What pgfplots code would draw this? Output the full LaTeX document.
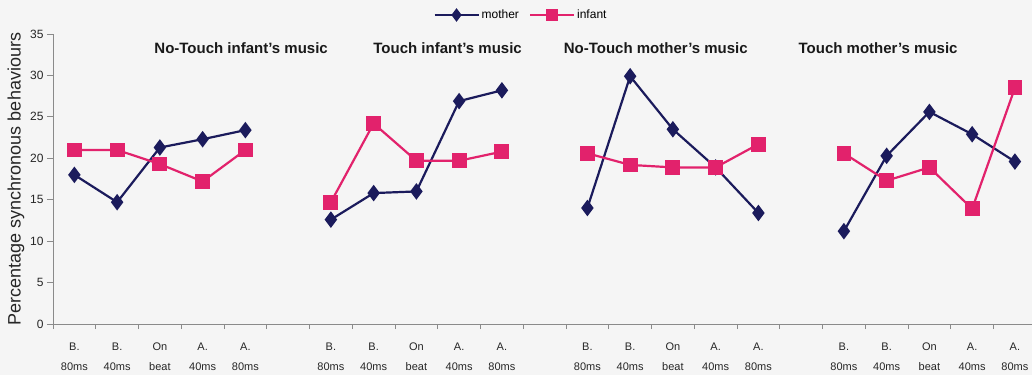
\documentclass[border=0pt]{standalone}
\usepackage{pgfplots}
\pgfplotsset{compat=1.18}
\usepackage{fontspec}
\setmainfont{Liberation Sans}
\usetikzlibrary{backgrounds}
\definecolor{mom}{HTML}{1B1B5C}
\definecolor{inf}{HTML}{E2226C}
\definecolor{bg}{HTML}{F5F5F5}
\definecolor{axisgray}{HTML}{8A8A8A}

\begin{document}
\begin{tikzpicture}[show background rectangle, inner frame sep=0pt,
  background rectangle/.style={fill=bg, draw=none}]
\useasboundingbox (-53pt,-51pt) rectangle (979pt,324pt);
\begin{axis}[
  scale only axis, width=979pt, height=290pt,
  xmin=-0.5, xmax=22.4, ymin=0, ymax=35,
  axis x line*=bottom, axis y line*=left,
  axis line style={axisgray, line width=0.9pt},
  every tick/.style={axisgray, line width=0.9pt},
  tick align=outside,
  /pgf/number format/assume math mode=true,
  xtick={0,1,2,3,4,6,7,8,9,10,12,13,14,15,16,18,19,20,21,22},
  xticklabels={{B.\\80ms},{B.\\40ms},{On\\beat},{A.\\40ms},{A.\\80ms},
               {B.\\80ms},{B.\\40ms},{On\\beat},{A.\\40ms},{A.\\80ms},
               {B.\\80ms},{B.\\40ms},{On\\beat},{A.\\40ms},{A.\\80ms},
               {B.\\80ms},{B.\\40ms},{On\\beat},{A.\\40ms},{A.\\80ms}},
  major x tick style={draw=none},
  minor xtick={-0.5,0.5,...,22.5},
  minor tick length=5pt,
  major tick length=6pt,
  x tick label style={align=center, font=\fontsize{11}{20}\selectfont, text=black!85, yshift=-9pt},
  ytick={0,5,...,35},
  y tick label style={font=\fontsize{12}{12}\selectfont, text=black!85},
  ylabel={Percentage synchronous behaviours},
  every axis y label/.style={at={(rel axis cs:0,0.5)}, rotate=90, anchor=center,
    yshift=37pt, font=\fontsize{18}{18}\selectfont, text=black!85},
  unbounded coords=jump,
  legend style={at={(rel axis cs:0.478,1)}, anchor=center, yshift=19pt,
    legend columns=2, draw=none, fill=none, font=\fontsize{12}{12}\selectfont,
    inner sep=0pt,
    /tikz/every even column/.append style={column sep=8pt}},
  legend image code/.code={\draw[mark size=5pt, mark repeat=2, mark phase=2]
    plot coordinates {(0pt,0pt)(22pt,0pt)(44pt,0pt)};},
  clip=false,
]
\addplot[mom, line width=2.2pt, mark=diamond*, mark size=6.5pt] coordinates {
(0,18.0) (1,14.7) (2,21.3) (3,22.3) (4,23.4) (5,nan)
(6,12.6) (7,15.8) (8,16.0) (9,26.9) (10,28.2) (11,nan)
(12,14.0) (13,29.9) (14,23.5) (15,18.9) (16,13.4) (17,nan)
(18,11.2) (19,20.3) (20,25.6) (21,22.9) (22,19.6)
};
\addlegendentry{mother}
\addplot[inf, line width=2.2pt, mark=square*, mark size=6.3pt] coordinates {
(0,21.0) (1,21.0) (2,19.3) (3,17.2) (4,21.0) (5,nan)
(6,14.7) (7,24.2) (8,19.7) (9,19.7) (10,20.8) (11,nan)
(12,20.6) (13,19.2) (14,18.9) (15,18.9) (16,21.7) (17,nan)
(18,20.6) (19,17.3) (20,18.9) (21,13.9) (22,28.5)
};
\addlegendentry{infant}
\begin{scope}[every node/.style={font=\bfseries\fontsize{15}{15}\selectfont, text=black!90}]
\node at (axis cs:3.9,33.3) {No-Touch infant's music};
\node at (axis cs:8.73,33.3) {Touch infant's music};
\node at (axis cs:13.6,33.3) {No-Touch mother's music};
\node at (axis cs:18.8,33.3) {Touch mother's music};
\end{scope}
\end{axis}
\end{tikzpicture}
\end{document}
